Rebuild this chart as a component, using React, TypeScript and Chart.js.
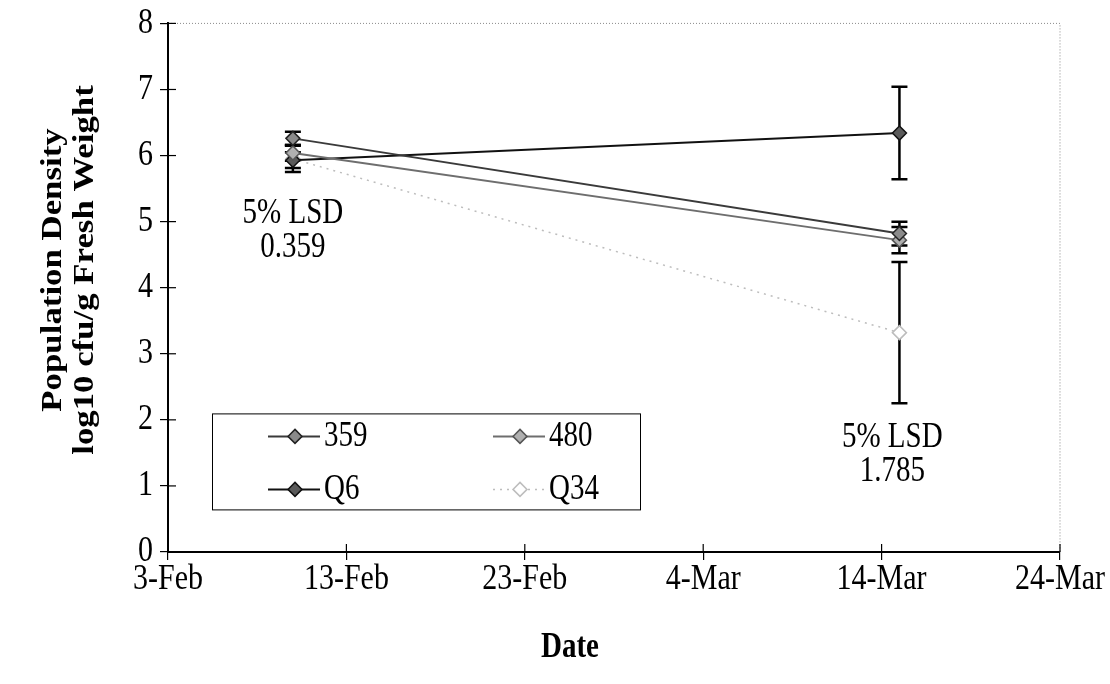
import React, { useEffect, useRef } from "react";
import { Chart, registerables } from "chart.js";

Chart.register(...registerables);

// ---- data ----
// x values are days since 3-Feb (leap year)
const xTickLabels = ["3-Feb", "13-Feb", "23-Feb", "4-Mar", "14-Mar", "24-Mar"];
const sampleDays = [7, 41]; // 10-Feb, 15-Mar
const seriesNames = ["359", "480", "Q6", "Q34"];
const values359 = [6.26, 4.82];
const values480 = [6.04, 4.72];
const valuesQ6 = [5.93, 6.34];
const valuesQ34 = [5.95, 3.32];
const err359 = [0.1, 0.18];
const err480 = [0.12, 0.2];
const errQ6 = [0.12, 0.7];
const errQ34 = [0.2, 1.07];
const lsdLabels = ["5% LSD", "5% LSD"];
const lsdValues = ["0.359", "1.785"];
const lsdDays = [7, 40.6];
const lsdY = [5.12, 1.72];
const lsdY2 = [4.6, 1.21];

const SERIF = '"Liberation Serif", "Times New Roman", Times, serif';
const STRETCH = 1.2;

const styles = [
  { line: "#3a3a3a", fill: "#8a8a8a", border: "#222", width: 2, dash: [] as number[] },
  { line: "#6e6e6e", fill: "#b0b0b0", border: "#555", width: 2, dash: [] as number[] },
  { line: "#111", fill: "#5a5a5a", border: "#111", width: 2, dash: [] as number[] },
  { line: "#bdbdbd", fill: "#ffffff", border: "#bdbdbd", width: 1.5, dash: [2, 5] },
];

const seriesValues = [values359, values480, valuesQ6, valuesQ34];
const seriesErrors = [err359, err480, errQ6, errQ34];

function stretchedText(
  ctx: CanvasRenderingContext2D,
  text: string,
  x: number,
  y: number,
  font: string,
  align: CanvasTextAlign,
  rotate = false
) {
  ctx.save();
  ctx.translate(x, y);
  ctx.scale(1, STRETCH);
  if (rotate) ctx.rotate(-Math.PI / 2);
  ctx.font = font;
  ctx.fillStyle = "#000";
  ctx.textAlign = align;
  ctx.textBaseline = "middle";
  ctx.fillText(text, 0, 0);
  ctx.restore();
}

const decorPlugin = {
  id: "decor",
  beforeDatasetsDraw(chart: any) {
    const { ctx, chartArea: a, scales } = chart;
    const xs = scales.x;
    const ys = scales.y;
    ctx.save();
    // dotted top/right border
    ctx.strokeStyle = "#8a8a8a";
    ctx.lineWidth = 1;
    ctx.setLineDash([1, 2]);
    ctx.beginPath();
    ctx.moveTo(a.left, a.top);
    ctx.lineTo(a.right, a.top);
    ctx.lineTo(a.right, a.bottom);
    ctx.stroke();
    ctx.setLineDash([]);
    // inner halves of cross ticks
    ctx.strokeStyle = "#000";
    ctx.lineWidth = 1.2;
    ys.ticks.forEach((t: any) => {
      const y = ys.getPixelForValue(t.value);
      ctx.beginPath();
      ctx.moveTo(a.left, y);
      ctx.lineTo(a.left + 8, y);
      ctx.stroke();
    });
    xs.ticks.forEach((t: any) => {
      const x = xs.getPixelForValue(t.value);
      ctx.beginPath();
      ctx.moveTo(x, a.bottom);
      ctx.lineTo(x, a.bottom - 8);
      ctx.stroke();
    });
    // error bars
    ctx.strokeStyle = "#000";
    ctx.lineWidth = 2.5;
    seriesValues.forEach((vals, si) => {
      vals.forEach((v, i) => {
        const e = seriesErrors[si][i];
        const x = xs.getPixelForValue(sampleDays[i]);
        const yt = ys.getPixelForValue(v + e);
        const yb = ys.getPixelForValue(v - e);
        ctx.beginPath();
        ctx.moveTo(x, yt);
        ctx.lineTo(x, yb);
        ctx.moveTo(x - 8, yt);
        ctx.lineTo(x + 8, yt);
        ctx.moveTo(x - 8, yb);
        ctx.lineTo(x + 8, yb);
        ctx.stroke();
      });
    });
    ctx.restore();
  },
  afterDatasetsDraw(chart: any) {
    const { ctx, chartArea: a, scales } = chart;
    const xs = scales.x;
    const ys = scales.y;
    const font = `29px ${SERIF}`;
    const tickFont = `30px ${SERIF}`;
    // tick labels (stretched like the scanned original)
    xs.ticks.forEach((t: any) => {
      stretchedText(ctx, String(t.label), xs.getPixelForValue(t.value), a.bottom + 28, tickFont, "center");
    });
    ys.ticks.forEach((t: any) => {
      stretchedText(ctx, String(t.label), a.left - 15, ys.getPixelForValue(t.value), tickFont, "right");
    });
    // LSD annotations
    lsdLabels.forEach((lab, i) => {
      const x = xs.getPixelForValue(lsdDays[i]);
      stretchedText(ctx, lab, x, ys.getPixelForValue(lsdY[i]), font, "center");
      stretchedText(ctx, lsdValues[i], x, ys.getPixelForValue(lsdY2[i]), font, "center");
    });
    // legend box
    const bx = a.left + 44;
    const by = a.top + 390;
    const bw = 428;
    const bh = 96;
    ctx.save();
    ctx.fillStyle = "#fff";
    ctx.fillRect(bx, by, bw, bh);
    ctx.strokeStyle = "#000";
    ctx.lineWidth = 1;
    ctx.strokeRect(bx + 0.5, by + 0.5, bw, bh);
    chart.data.datasets.forEach((ds: any, i: number) => {
      const col = i % 2;
      const row = Math.floor(i / 2);
      const lx = bx + 56 + col * 225;
      const ly = by + 23 + row * 53;
      ctx.save();
      ctx.strokeStyle = ds.borderColor;
      ctx.lineWidth = ds.borderWidth;
      ctx.setLineDash(ds.borderDash || []);
      ctx.beginPath();
      ctx.moveTo(lx, ly);
      ctx.lineTo(lx + 52, ly);
      ctx.stroke();
      ctx.setLineDash([]);
      const mx = lx + 27;
      const r = ds.pointRadius;
      ctx.beginPath();
      ctx.moveTo(mx, ly - r);
      ctx.lineTo(mx + r, ly);
      ctx.lineTo(mx, ly + r);
      ctx.lineTo(mx - r, ly);
      ctx.closePath();
      ctx.fillStyle = ds.pointBackgroundColor;
      ctx.fill();
      ctx.strokeStyle = ds.pointBorderColor;
      ctx.lineWidth = ds.pointBorderWidth;
      ctx.stroke();
      ctx.restore();
      stretchedText(ctx, ds.label, lx + 56, ly, font, "left");
    });
    ctx.restore();
    // axis titles
    const bold = `bold 29px ${SERIF}`;
    stretchedText(ctx, "Population Density", 54, 270, bold, "center", true);
    stretchedText(ctx, "log10 cfu/g Fresh Weight", 86, 270, bold, "center", true);
    stretchedText(ctx, "Date", 570, 648, bold, "center");
  },
};

export default function App() {
  const ref = useRef<HTMLCanvasElement>(null);
  useEffect(() => {
    document.body.style.margin = "0";
    if (!ref.current) return;
    const datasets = seriesNames.map((name, si) => ({
      label: name,
      data: seriesValues[si].map((v, i) => ({ x: sampleDays[i], y: v })),
      borderColor: styles[si].line,
      borderWidth: styles[si].width,
      borderDash: styles[si].dash,
      pointStyle: "rectRot" as const,
      pointRadius: 7,
      pointBackgroundColor: styles[si].fill,
      pointBorderColor: styles[si].border,
      pointBorderWidth: 1.5,
      tension: 0,
      fill: false,
    }));
    const tickFont = { family: SERIF, size: 29 };
    const hidden = "rgba(0,0,0,0)";
    const chart = new Chart(ref.current, {
      type: "line",
      data: { datasets },
      options: {
        animation: false,
        responsive: false,
        devicePixelRatio: 1,
        layout: { padding: { top: 22, right: 50, left: 0, bottom: 0 } },
        plugins: { legend: { display: false }, tooltip: { enabled: false } },
        scales: {
          x: {
            type: "linear",
            min: 0,
            max: 50,
            ticks: {
              stepSize: 10,
              autoSkip: false,
              maxRotation: 0,
              color: hidden,
              font: tickFont,
              padding: 4,
              callback: (v: any) => xTickLabels[Math.round(Number(v) / 10)] ?? "",
            },
            grid: { drawOnChartArea: false, drawTicks: true, tickLength: 8, color: "#000", lineWidth: 1.2 },
            border: { color: "#000", width: 2 },
            afterFit: (s: any) => {
              s.height = 132;
            },
          },
          y: {
            type: "linear",
            min: 0,
            max: 8,
            ticks: { stepSize: 1, color: hidden, font: tickFont, padding: 6 },
            grid: { drawOnChartArea: false, drawTicks: true, tickLength: 8, color: "#000", lineWidth: 1.2 },
            border: { color: "#000", width: 2 },
            afterFit: (s: any) => {
              s.width = 168;
            },
          },
        },
      },
      plugins: [decorPlugin],
    });
    return () => chart.destroy();
  }, []);
  return <canvas ref={ref} width={1110} height={684} style={{ display: "block" }} />;
}
